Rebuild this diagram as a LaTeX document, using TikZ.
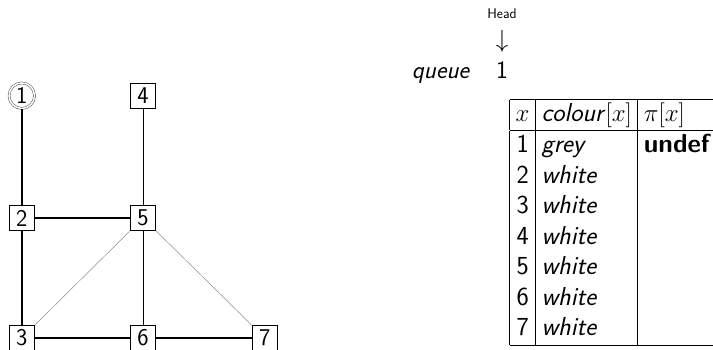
\documentclass[tikz,border=0pt]{standalone}
\usepackage{tikz}
\usetikzlibrary{positioning}
\renewcommand{\familydefault}{\sfdefault}
\newcommand{\bigfont}{\fontsize{24}{30}\selectfont}

\begin{document}
\begin{tikzpicture}[
  x=1pt, y=-1pt,
  vertex/.style={rectangle, draw, line width=0.9pt, minimum size=25pt,
    inner sep=0pt, font=\bigfont},
  source/.style={circle, draw=black!70, double, double distance=1.5pt,
    line width=0.5pt, minimum size=25.5pt, inner sep=0pt, font=\bigfont},
  tree/.style={line width=1.4pt},
  plain/.style={line width=0.7pt},
  cross/.style={line width=0.5pt, draw=black!45}
]
\useasboundingbox (0,0) rectangle (713,350);
\clip (0,0) rectangle (713,350);

% the graph
\node[source] (v1) at (21.8,95.7) {1};
\node[vertex] (v4) at (143,96) {4};
\node[vertex] (v2) at (21.8,218) {2};
\node[vertex] (v5) at (143,218) {5};
\node[vertex] (v3) at (21.8,338) {3};
\node[vertex] (v6) at (143,338) {6};
\node[vertex] (v7) at (264.8,338) {7};

\draw[tree] (v1) -- (v2);
\draw[tree] (v2) -- (v5);
\draw[tree] (v2) -- (v3);
\draw[tree] (v3) -- (v6);
\draw[tree] (v6) -- (v7);
\draw[plain] (v4) -- (v5);
\draw[plain] (v5) -- (v6);
\draw[cross] (v5) -- (v3);
\draw[cross] (v5) -- (v7);

% queue with its head pointer
\node[font=\fontsize{14}{16}\selectfont] (head) at (502,14) {Head};
\node[font=\bigfont] (ptr) at (502,41) {$\downarrow$};
\node[font=\fontsize{25}{30}\selectfont] (q1) at (502,70) {1};
\node[font=\fontsize{25}{30}\selectfont\itshape, anchor=base east]
  (qlabel) at ([xshift=-20pt]q1.base west) {queue};

% colour / predecessor table
\node[anchor=north west, inner sep=0pt, font=\fontsize{26}{30.5}\selectfont] (tbl) at (509.5,98.5) {%
  \setlength{\tabcolsep}{6pt}\setlength{\arrayrulewidth}{1pt}%
  \begin{tabular}{|c|l|l@{\hspace{14pt}}|}\hline
  $x$ & \textit{colour}$[x]$ & $\pi[x]$\\\hline
  1 & \textit{grey}  & \textbf{undef}\\
  2 & \textit{white} & \\
  3 & \textit{white} & \\
  4 & \textit{white} & \\
  5 & \textit{white} & \\
  6 & \textit{white} & \\
  7 & \textit{white} & \\\hline
  \end{tabular}};
\end{tikzpicture}
\end{document}
